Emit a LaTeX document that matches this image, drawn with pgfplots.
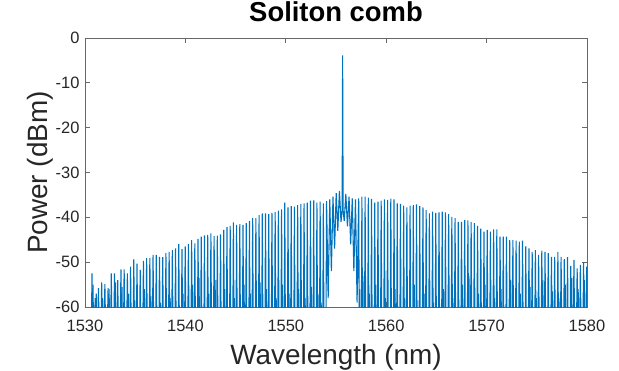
\documentclass[border=0pt]{standalone}
\usepackage{pgfplots}
\pgfplotsset{compat=1.18}
\usepackage{fontspec}
\setmainfont{Liberation Sans}
\definecolor{mblue}{rgb}{0,0.447,0.741}
\definecolor{axgray}{rgb}{0.15,0.15,0.15}
\begin{document}
\begin{tikzpicture}
\path[use as bounding box] (-85bp,-64bp) rectangle (534bp,307bp);
\begin{axis}[
  at={(0,0)}, anchor=south west,
  scale only axis, width=502bp, height=269bp,
  xmin=1530, xmax=1580, ymin=-60, ymax=0,
  xtick={1530,1540,1550,1560,1570,1580},
  ytick={-60,-50,-40,-30,-20,-10,0},
  tick align=inside, major tick length=5bp,
  axis line style={draw=axgray!70, line width=0.7bp},
  every tick/.style={draw=axgray!70, line width=0.7bp},
  /pgf/number format/1000 sep={},
  /pgf/number format/assume math mode=true,
  tick label style={font=\fontsize{16.5}{19}\selectfont, text=axgray},
  xticklabel style={anchor=base, yshift=-24bp},
  yticklabel style={xshift=-2bp},
  xlabel={Wavelength (nm)},
  ylabel={Power (dBm)},
  xlabel style={font=\fontsize{28}{32}\selectfont, text=axgray, at={(axis description cs:0.5,0)}, anchor=base, yshift=-57bp},
  ylabel style={font=\fontsize{28}{32}\selectfont, text=axgray, at={([xshift=-37bp]axis description cs:0,0.5)}, anchor=base},
  title={Soliton comb},
  title style={font=\fontsize{27.5}{32}\selectfont\bfseries, at={(axis description cs:0.5,1)}, anchor=base, yshift=11bp},
]
\addplot[mblue, line width=1.1bp] table[row sep=\\] {x y\\
1530.65 -62\\ 1530.70 -52.5\\ 1530.75 -62\\
1530.97 -62\\ 1531.02 -58.0\\ 1531.07 -62\\
1531.29 -62\\ 1531.34 -55.8\\ 1531.39 -62\\
1531.61 -62\\ 1531.66 -54.5\\ 1531.71 -62\\
1531.93 -62\\ 1531.98 -54.9\\ 1532.03 -62\\
1532.25 -62\\ 1532.30 -55.8\\ 1532.35 -62\\
1532.57 -62\\ 1532.62 -52.5\\ 1532.67 -62\\
1532.89 -62\\ 1532.94 -52.5\\ 1532.99 -62\\
1533.21 -62\\ 1533.26 -54.0\\ 1533.31 -62\\
1533.53 -62\\ 1533.58 -51.6\\ 1533.63 -62\\
1533.85 -62\\ 1533.90 -51.6\\ 1533.95 -62\\
1534.17 -62\\ 1534.22 -52.5\\ 1534.27 -62\\
1534.49 -62\\ 1534.54 -51.0\\ 1534.59 -62\\
1534.81 -62\\ 1534.86 -49.4\\ 1534.91 -62\\
1535.13 -62\\ 1535.18 -50.3\\ 1535.23 -62\\
1535.45 -62\\ 1535.50 -51.7\\ 1535.55 -62\\
1535.77 -62\\ 1535.82 -49.7\\ 1535.87 -62\\
1536.09 -62\\ 1536.14 -49.1\\ 1536.19 -62\\
1536.41 -62\\ 1536.46 -49.1\\ 1536.51 -62\\
1536.73 -62\\ 1536.78 -48.4\\ 1536.83 -62\\
1537.05 -62\\ 1537.10 -48.4\\ 1537.15 -62\\
1537.37 -62\\ 1537.42 -48.8\\ 1537.47 -62\\
1537.69 -62\\ 1537.74 -48.9\\ 1537.79 -62\\
1538.01 -62\\ 1538.06 -48.0\\ 1538.11 -62\\
1538.33 -62\\ 1538.38 -47.7\\ 1538.43 -62\\
1538.65 -62\\ 1538.70 -47.3\\ 1538.75 -62\\
1538.97 -62\\ 1539.02 -46.9\\ 1539.07 -62\\
1539.29 -62\\ 1539.34 -46.0\\ 1539.39 -62\\
1539.61 -62\\ 1539.66 -47.1\\ 1539.71 -62\\
1539.93 -62\\ 1539.98 -46.5\\ 1540.03 -62\\
1540.25 -62\\ 1540.30 -46.0\\ 1540.35 -62\\
1540.57 -62\\ 1540.62 -45.1\\ 1540.67 -62\\
1540.89 -62\\ 1540.94 -45.8\\ 1540.99 -62\\
1541.21 -62\\ 1541.26 -44.8\\ 1541.31 -62\\
1541.53 -62\\ 1541.58 -44.3\\ 1541.63 -62\\
1541.85 -62\\ 1541.90 -44.0\\ 1541.95 -62\\
1542.17 -62\\ 1542.22 -43.9\\ 1542.27 -62\\
1542.49 -62\\ 1542.54 -43.6\\ 1542.59 -62\\
1542.81 -62\\ 1542.86 -44.2\\ 1542.91 -62\\
1543.13 -62\\ 1543.18 -44.1\\ 1543.23 -62\\
1543.45 -62\\ 1543.50 -43.8\\ 1543.55 -62\\
1543.77 -62\\ 1543.82 -42.8\\ 1543.87 -62\\
1544.09 -62\\ 1544.14 -42.2\\ 1544.19 -62\\
1544.41 -62\\ 1544.46 -41.9\\ 1544.51 -62\\
1544.73 -62\\ 1544.78 -41.1\\ 1544.83 -62\\
1545.05 -62\\ 1545.10 -41.7\\ 1545.15 -62\\
1545.37 -62\\ 1545.42 -41.5\\ 1545.47 -62\\
1545.69 -62\\ 1545.74 -41.7\\ 1545.79 -62\\
1546.01 -62\\ 1546.06 -41.3\\ 1546.11 -62\\
1546.33 -62\\ 1546.38 -40.8\\ 1546.43 -62\\
1546.65 -62\\ 1546.70 -40.2\\ 1546.75 -62\\
1546.97 -62\\ 1547.02 -40.2\\ 1547.07 -62\\
1547.29 -62\\ 1547.34 -39.5\\ 1547.39 -62\\
1547.61 -62\\ 1547.66 -39.1\\ 1547.71 -62\\
1547.93 -62\\ 1547.98 -39.1\\ 1548.03 -62\\
1548.25 -62\\ 1548.30 -39.3\\ 1548.35 -62\\
1548.57 -62\\ 1548.62 -39.0\\ 1548.67 -62\\
1548.89 -62\\ 1548.94 -38.8\\ 1548.99 -62\\
1549.21 -62\\ 1549.26 -38.5\\ 1549.31 -62\\
1549.53 -62\\ 1549.58 -38.2\\ 1549.63 -62\\
1549.85 -62\\ 1549.90 -36.7\\ 1549.95 -62\\
1550.17 -62\\ 1550.22 -37.8\\ 1550.27 -62\\
1550.49 -62\\ 1550.54 -37.5\\ 1550.59 -62\\
1550.81 -62\\ 1550.86 -37.6\\ 1550.91 -62\\
1551.13 -62\\ 1551.18 -37.3\\ 1551.23 -62\\
1551.45 -62\\ 1551.50 -37.0\\ 1551.55 -62\\
1551.77 -62\\ 1551.82 -36.9\\ 1551.87 -62\\
1552.09 -62\\ 1552.14 -36.7\\ 1552.19 -62\\
1552.41 -62\\ 1552.46 -36.3\\ 1552.51 -62\\
1552.73 -62\\ 1552.78 -36.2\\ 1552.83 -62\\
1553.05 -62\\ 1553.10 -36.7\\ 1553.15 -62\\
1553.37 -62\\ 1553.42 -36.5\\ 1553.47 -62\\
1553.69 -62\\ 1553.74 -36.9\\ 1553.79 -62\\
1554.01 -62\\ 1554.06 -36.4\\ 1554.22 -58\\ 1554.38 -36.0\\ 1554.54 -52\\
1554.70 -35.4\\ 1554.86 -47\\ 1555.02 -34.6\\ 1555.18 -43\\ 1555.34 -34.1\\
1555.50 -41\\ 1555.61 -38.5\\ 1555.66 -3.9\\ 1555.71 -38.5\\ 1555.82 -40.8\\
1555.98 -34.8\\ 1556.14 -42\\ 1556.30 -35.4\\ 1556.46 -46\\ 1556.62 -35.8\\
1556.78 -52\\ 1556.94 -36.0\\ 1557.10 -59\\ 1557.26 -35.8\\ 1557.31 -62\\
1557.53 -62\\ 1557.58 -35.4\\ 1557.63 -62\\
1557.85 -62\\ 1557.90 -35.4\\ 1557.95 -62\\
1558.17 -62\\ 1558.22 -35.6\\ 1558.27 -62\\
1558.49 -62\\ 1558.54 -35.9\\ 1558.59 -62\\
1558.81 -62\\ 1558.86 -36.7\\ 1558.91 -62\\
1559.13 -62\\ 1559.18 -36.5\\ 1559.23 -62\\
1559.45 -62\\ 1559.50 -36.3\\ 1559.55 -62\\
1559.77 -62\\ 1559.82 -36.0\\ 1559.87 -62\\
1560.09 -62\\ 1560.14 -36.1\\ 1560.19 -62\\
1560.41 -62\\ 1560.46 -35.8\\ 1560.51 -62\\
1560.73 -62\\ 1560.78 -36.0\\ 1560.83 -62\\
1561.05 -62\\ 1561.10 -36.9\\ 1561.15 -62\\
1561.37 -62\\ 1561.42 -37.0\\ 1561.47 -62\\
1561.69 -62\\ 1561.74 -37.4\\ 1561.79 -62\\
1562.01 -62\\ 1562.06 -37.8\\ 1562.11 -62\\
1562.33 -62\\ 1562.38 -37.4\\ 1562.43 -62\\
1562.65 -62\\ 1562.70 -37.3\\ 1562.75 -62\\
1562.97 -62\\ 1563.02 -37.1\\ 1563.07 -62\\
1563.29 -62\\ 1563.34 -37.5\\ 1563.39 -62\\
1563.61 -62\\ 1563.66 -37.8\\ 1563.71 -62\\
1563.93 -62\\ 1563.98 -38.4\\ 1564.03 -62\\
1564.25 -62\\ 1564.30 -39.1\\ 1564.35 -62\\
1564.57 -62\\ 1564.62 -38.7\\ 1564.67 -62\\
1564.89 -62\\ 1564.94 -39.0\\ 1564.99 -62\\
1565.21 -62\\ 1565.26 -38.9\\ 1565.31 -62\\
1565.53 -62\\ 1565.58 -38.7\\ 1565.63 -62\\
1565.85 -62\\ 1565.90 -38.9\\ 1565.95 -62\\
1566.17 -62\\ 1566.22 -39.3\\ 1566.27 -62\\
1566.49 -62\\ 1566.54 -39.9\\ 1566.59 -62\\
1566.81 -62\\ 1566.86 -40.2\\ 1566.91 -62\\
1567.13 -62\\ 1567.18 -41.0\\ 1567.23 -62\\
1567.45 -62\\ 1567.50 -41.0\\ 1567.55 -62\\
1567.77 -62\\ 1567.82 -40.6\\ 1567.87 -62\\
1568.09 -62\\ 1568.14 -40.7\\ 1568.19 -62\\
1568.41 -62\\ 1568.46 -41.0\\ 1568.51 -62\\
1568.73 -62\\ 1568.78 -41.3\\ 1568.83 -62\\
1569.05 -62\\ 1569.10 -41.9\\ 1569.15 -62\\
1569.37 -62\\ 1569.42 -42.5\\ 1569.47 -62\\
1569.69 -62\\ 1569.74 -43.2\\ 1569.79 -62\\
1570.01 -62\\ 1570.06 -42.8\\ 1570.11 -62\\
1570.33 -62\\ 1570.38 -43.2\\ 1570.43 -62\\
1570.65 -62\\ 1570.70 -42.7\\ 1570.75 -62\\
1570.97 -62\\ 1571.02 -42.7\\ 1571.07 -62\\
1571.29 -62\\ 1571.34 -44.3\\ 1571.39 -62\\
1571.61 -62\\ 1571.66 -44.3\\ 1571.71 -62\\
1571.93 -62\\ 1571.98 -44.3\\ 1572.03 -62\\
1572.25 -62\\ 1572.30 -45.1\\ 1572.35 -62\\
1572.57 -62\\ 1572.62 -45.1\\ 1572.67 -62\\
1572.89 -62\\ 1572.94 -45.2\\ 1572.99 -62\\
1573.21 -62\\ 1573.26 -45.4\\ 1573.31 -62\\
1573.53 -62\\ 1573.58 -45.2\\ 1573.63 -62\\
1573.85 -62\\ 1573.90 -46.5\\ 1573.95 -62\\
1574.17 -62\\ 1574.22 -46.9\\ 1574.27 -62\\
1574.49 -62\\ 1574.54 -47.7\\ 1574.59 -62\\
1574.81 -62\\ 1574.86 -47.3\\ 1574.91 -62\\
1575.13 -62\\ 1575.18 -48.4\\ 1575.23 -62\\
1575.45 -62\\ 1575.50 -47.4\\ 1575.55 -62\\
1575.77 -62\\ 1575.82 -47.7\\ 1575.87 -62\\
1576.09 -62\\ 1576.14 -48.0\\ 1576.19 -62\\
1576.41 -62\\ 1576.46 -48.8\\ 1576.51 -62\\
1576.73 -62\\ 1576.78 -48.8\\ 1576.83 -62\\
1577.05 -62\\ 1577.10 -47.7\\ 1577.15 -62\\
1577.37 -62\\ 1577.42 -48.8\\ 1577.47 -62\\
1577.69 -62\\ 1577.74 -49.3\\ 1577.79 -62\\
1578.01 -62\\ 1578.06 -48.9\\ 1578.11 -62\\
1578.33 -62\\ 1578.38 -50.9\\ 1578.43 -62\\
1578.65 -62\\ 1578.70 -49.5\\ 1578.75 -62\\
1578.97 -62\\ 1579.02 -51.4\\ 1579.07 -62\\
1579.29 -62\\ 1579.34 -50.6\\ 1579.39 -62\\
1579.61 -62\\ 1579.66 -50.0\\ 1579.71 -62\\
1579.93 -62\\ 1579.98 -51.0\\ 1580.03 -62\\
};
\addplot[mblue, line width=1.1bp] table[row sep=\\] {x y\\
1530.77 -62\\ 1530.80 -55.0\\ 1530.83 -62\\
1531.09 -62\\ 1531.12 -57.0\\ 1531.15 -62\\
1531.73 -62\\ 1531.76 -58.0\\ 1531.79 -62\\
1532.37 -62\\ 1532.40 -56.0\\ 1532.43 -62\\
1533.01 -62\\ 1533.04 -54.5\\ 1533.07 -62\\
1533.65 -62\\ 1533.68 -55.5\\ 1533.71 -62\\
1534.29 -62\\ 1534.32 -57.0\\ 1534.35 -62\\
1534.93 -62\\ 1534.96 -58.5\\ 1534.99 -62\\
1535.89 -62\\ 1535.92 -56.0\\ 1535.95 -62\\
1536.53 -62\\ 1536.56 -57.5\\ 1536.59 -62\\
1537.49 -62\\ 1537.52 -59.0\\ 1537.55 -62\\
1538.45 -62\\ 1538.48 -58.0\\ 1538.51 -62\\
1539.73 -62\\ 1539.76 -57.0\\ 1539.79 -62\\
1540.69 -62\\ 1540.72 -55.0\\ 1540.75 -62\\
1541.33 -62\\ 1541.36 -53.5\\ 1541.39 -62\\
1542.29 -62\\ 1542.32 -57.0\\ 1542.35 -62\\
1542.93 -62\\ 1542.96 -54.0\\ 1542.99 -62\\
1543.89 -62\\ 1543.92 -56.0\\ 1543.95 -62\\
1544.85 -62\\ 1544.88 -58.0\\ 1544.91 -62\\
1545.81 -62\\ 1545.84 -55.0\\ 1545.87 -62\\
1546.45 -62\\ 1546.48 -57.0\\ 1546.51 -62\\
1547.41 -62\\ 1547.44 -54.5\\ 1547.47 -62\\
1548.05 -62\\ 1548.08 -56.0\\ 1548.11 -62\\
1549.01 -62\\ 1549.04 -58.0\\ 1549.07 -62\\
1549.65 -62\\ 1549.68 -55.0\\ 1549.71 -62\\
1550.29 -62\\ 1550.32 -57.0\\ 1550.35 -62\\
1551.25 -62\\ 1551.28 -56.0\\ 1551.31 -62\\
1551.89 -62\\ 1551.92 -58.0\\ 1551.95 -62\\
1552.53 -62\\ 1552.56 -55.5\\ 1552.59 -62\\
1553.17 -62\\ 1553.20 -57.0\\ 1553.23 -62\\
1553.49 -62\\ 1553.52 -59.0\\ 1553.55 -62\\
1557.33 -62\\ 1557.36 -56.0\\ 1557.39 -62\\
1557.65 -62\\ 1557.68 -53.0\\ 1557.71 -62\\
1558.29 -62\\ 1558.32 -57.0\\ 1558.35 -62\\
1558.93 -62\\ 1558.96 -55.0\\ 1558.99 -62\\
1559.89 -62\\ 1559.92 -58.0\\ 1559.95 -62\\
1560.85 -62\\ 1560.88 -56.0\\ 1560.91 -62\\
1561.81 -62\\ 1561.84 -58.0\\ 1561.87 -62\\
1562.77 -62\\ 1562.80 -55.0\\ 1562.83 -62\\
1563.73 -62\\ 1563.76 -57.0\\ 1563.79 -62\\
1564.69 -62\\ 1564.72 -59.0\\ 1564.75 -62\\
1565.65 -62\\ 1565.68 -56.0\\ 1565.71 -62\\
1566.61 -62\\ 1566.64 -58.0\\ 1566.67 -62\\
1567.57 -62\\ 1567.60 -55.0\\ 1567.63 -62\\
1568.21 -62\\ 1568.24 -53.0\\ 1568.27 -62\\
1569.17 -62\\ 1569.20 -57.0\\ 1569.23 -62\\
1569.81 -62\\ 1569.84 -55.0\\ 1569.87 -62\\
1570.77 -62\\ 1570.80 -58.0\\ 1570.83 -62\\
1571.41 -62\\ 1571.44 -56.0\\ 1571.47 -62\\
1572.37 -62\\ 1572.40 -54.0\\ 1572.43 -62\\
1573.33 -62\\ 1573.36 -57.0\\ 1573.39 -62\\
1574.29 -62\\ 1574.32 -55.5\\ 1574.35 -62\\
1574.93 -62\\ 1574.96 -58.0\\ 1574.99 -62\\
1575.57 -62\\ 1575.60 -54.0\\ 1575.63 -62\\
1576.53 -62\\ 1576.56 -56.5\\ 1576.59 -62\\
1577.17 -62\\ 1577.20 -58.0\\ 1577.23 -62\\
1577.81 -62\\ 1577.84 -55.0\\ 1577.87 -62\\
1578.45 -62\\ 1578.48 -53.5\\ 1578.51 -62\\
1579.09 -62\\ 1579.12 -56.0\\ 1579.15 -62\\
1579.73 -62\\ 1579.76 -54.0\\ 1579.79 -62\\
};
\end{axis}
\end{tikzpicture}
\end{document}
